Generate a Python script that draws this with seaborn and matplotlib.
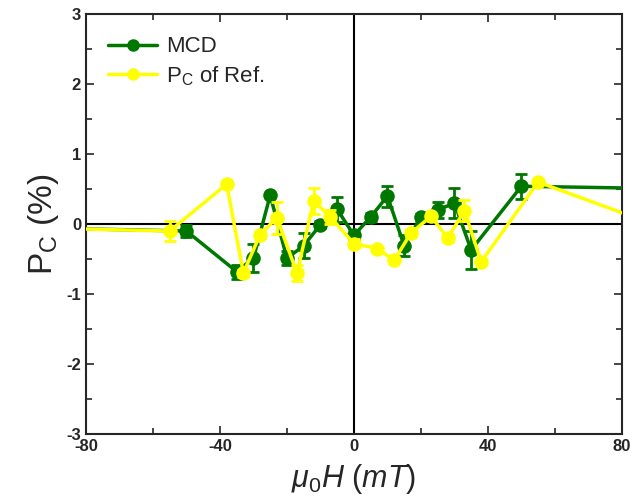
import matplotlib
matplotlib.use("Agg")
import matplotlib.pyplot as plt
import seaborn as sns
import pandas as pd
from matplotlib.ticker import MultipleLocator
from matplotlib.lines import Line2D

# MCD data (field in mT, Pc in %, error)
mcd_h = [-100, -50, -35, -30, -25, -20, -15, -10, -5, 0, 5, 10, 15, 20, 25, 30, 35, 50, 100]
mcd_pc = [-0.05, -0.10, -0.68, -0.49, 0.41, -0.49, -0.31, -0.01, 0.21, -0.16, 0.10, 0.40,
          -0.31, 0.10, 0.20, 0.30, -0.37, 0.54, 0.50]
mcd_err = [0, 0.08, 0.10, 0.20, 0.0, 0.10, 0.18, 0.05, 0.18, 0.08, 0.06, 0.15,
           0.15, 0.05, 0.12, 0.22, 0.27, 0.18, 0]

# Pc of reference
ref_h = [-100, -55, -38, -33, -28, -23, -17, -12, -7, 0, 7, 12, 17, 23, 28, 33, 38, 55, 100]
ref_pc = [-0.05, -0.10, 0.57, -0.70, -0.15, 0.09, -0.70, 0.33, 0.10, -0.28, -0.35, -0.52,
          -0.13, 0.11, -0.20, 0.19, -0.54, 0.60, -0.19]
ref_err = [0, 0.14, 0, 0.05, 0.05, 0.23, 0.12, 0.18, 0.10, 0.06, 0, 0,
           0.06, 0, 0.06, 0.15, 0, 0, 0]

sns.set_style("ticks")
plt.rcParams["font.family"] = ["Liberation Sans", "DejaVu Sans"]
plt.rcParams["mathtext.fontset"] = "custom"
plt.rcParams["mathtext.rm"] = "Liberation Sans"
plt.rcParams["mathtext.it"] = "Liberation Sans:italic"
plt.rcParams["axes.unicode_minus"] = False

green = "#007800"
yellow = "#FFFF00"

fig = plt.figure(figsize=(6.32, 5.04), dpi=100)
ax = fig.add_axes([0.136, 0.139, 0.848, 0.833])

ax.axhline(0, color="black", lw=1.5, zorder=1)
ax.axvline(0, color="black", lw=1.5, zorder=1)

df_mcd = pd.DataFrame({"h": mcd_h, "pc": mcd_pc})
df_ref = pd.DataFrame({"h": ref_h, "pc": ref_pc})

# MCD series
ax.errorbar(mcd_h, mcd_pc, yerr=mcd_err, fmt="none", ecolor=green, elinewidth=2,
            capsize=4, capthick=2, zorder=2)
sns.lineplot(data=df_mcd, x="h", y="pc", ax=ax, color=green, lw=2.5, sort=False,
             legend=False, zorder=3)
sns.scatterplot(data=df_mcd, x="h", y="pc", ax=ax, color=green, s=110,
                edgecolor=green, linewidth=0, legend=False, zorder=3.2)

# reference series
ax.errorbar(ref_h, ref_pc, yerr=ref_err, fmt="none", ecolor=yellow, elinewidth=2,
            capsize=4, capthick=2, zorder=4)
sns.lineplot(data=df_ref, x="h", y="pc", ax=ax, color=yellow, lw=2.5, sort=False,
             legend=False, zorder=5)
sns.scatterplot(data=df_ref, x="h", y="pc", ax=ax, color=yellow, s=110,
                edgecolor=yellow, linewidth=0, legend=False, zorder=5.2)

ax.set_xlim(-80, 80)
ax.set_ylim(-3, 3)
ax.xaxis.set_major_locator(MultipleLocator(40))
ax.xaxis.set_minor_locator(MultipleLocator(20))
ax.yaxis.set_major_locator(MultipleLocator(1))
ax.yaxis.set_minor_locator(MultipleLocator(0.5))
ax.tick_params(which="both", direction="in", top=True, right=True, width=1.2)
ax.tick_params(which="major", length=6)
ax.tick_params(which="minor", length=4)
for lab in ax.get_xticklabels() + ax.get_yticklabels():
    lab.set_fontweight("bold")
    lab.set_fontsize(12)
for s in ax.spines.values():
    s.set_linewidth(1.5)

ax.set_xlabel(r"$\mu_0H$ $(mT)$", fontsize=22, labelpad=6)
ax.set_ylabel(r"P$_\mathrm{C}$ (%)", fontsize=24, labelpad=4)

handles = [
    Line2D([], [], color=green, lw=2.5, marker="o", markersize=8, markeredgecolor=green),
    Line2D([], [], color=yellow, lw=2.5, marker="o", markersize=8, markeredgecolor=yellow),
]
ax.legend(handles, ["MCD", r"P$_\mathrm{C}$ of Ref."], loc="upper left", frameon=False,
          fontsize=16, handlelength=2.2, borderaxespad=0.6, labelspacing=0.3,
          handletextpad=0.4)

fig.savefig("out.png", dpi=100)
